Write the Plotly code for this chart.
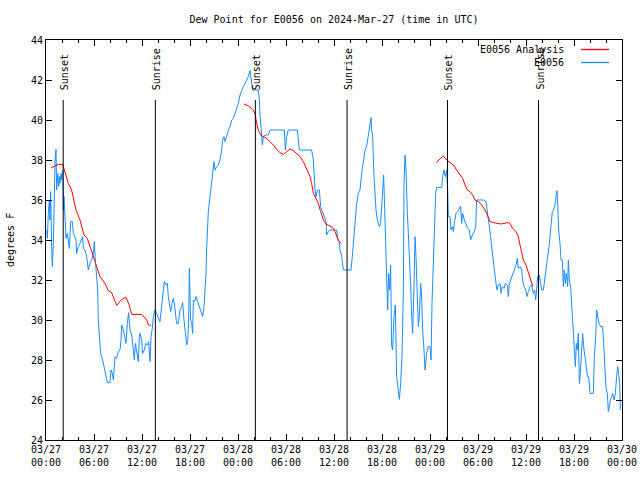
import pandas as pd
import plotly.graph_objects as go

START = pd.Timestamp("2024-03-27 00:00")

# Observed dew point (hours since 2024-03-27 00:00 UTC, degrees F)
obs_hours = [
    0.08, 0.17, 0.29, 0.42, 0.5, 0.58, 0.71, 0.79, 0.92, 1.04, 1.13, 1.25, 1.33, 1.46, 1.58, 1.67,
    1.75, 1.88, 1.96, 2.08, 2.17, 2.25, 2.38, 2.5, 2.67, 2.79, 2.92, 3.08, 3.29, 3.42, 3.54, 3.75,
    3.83, 4.04, 4.25, 4.46, 4.58, 4.67, 4.88, 5.08, 5.29, 5.5, 5.71, 5.92, 6.04, 6.13, 6.33, 6.46,
    6.54, 6.67, 6.83, 7.04, 7.17, 7.29, 7.5, 7.67, 8.0, 8.13, 8.29, 8.42, 8.63, 8.83, 9.04, 9.25,
    9.38, 9.46, 9.67, 9.88, 10.0, 10.17, 10.33, 10.5, 10.71, 10.92, 11.04, 11.17, 11.33, 11.54, 11.67,
    11.75, 11.96, 12.08, 12.29, 12.46, 12.71, 12.83, 13.0, 13.13, 13.29, 13.42, 13.63, 13.83, 14.04,
    14.25, 14.38, 14.5, 14.67, 14.79, 15.0, 15.17, 15.29, 15.42, 15.58, 15.75, 15.92, 16.04, 16.21,
    16.33, 16.54, 16.75, 16.96, 17.08, 17.25, 17.42, 17.58, 17.71, 17.83, 17.92, 18.0, 18.08, 18.21,
    18.33, 18.42, 18.58, 18.75, 18.96, 19.13, 19.25, 19.46, 19.58, 19.75, 19.88, 20.0, 20.08, 20.17,
    20.29, 20.5, 20.71, 20.83, 21.0, 21.13, 21.33, 21.54, 21.75, 21.96, 22.08, 22.25, 22.38, 22.58,
    22.79, 23.0, 23.21, 23.42, 23.63, 23.83, 24.04, 24.25, 24.46, 24.67, 24.88, 25.08, 25.29, 25.5,
    25.63, 25.83, 26.54, 26.67, 26.75, 26.88, 27.04, 27.17, 27.38, 27.79, 28.0, 29.79, 29.92, 30.08,
    30.29, 31.42, 31.67, 33.2, 33.4, 33.63, 33.75, 33.92, 34.17, 34.33, 34.58, 34.75, 35.0, 35.08,
    35.29, 35.5, 36.33, 36.46, 36.67, 36.75, 36.96, 37.17, 38.13, 38.29, 38.5, 38.63, 38.83, 39.04,
    39.25, 39.46, 39.67, 39.88, 40.08, 40.29, 40.5, 40.63, 40.71, 40.83, 41.0, 41.13, 41.25, 41.42,
    41.67, 41.83, 41.96, 42.08, 42.2, 42.29, 42.42, 42.5, 42.63, 42.71, 42.83, 42.96, 43.08, 43.2,
    43.33, 43.5, 43.67, 43.83, 44.0, 44.17, 44.33, 44.5, 44.67, 44.75, 44.88, 45.0, 45.17, 45.38,
    45.58, 45.71, 45.83, 46.0, 46.13, 46.25, 46.42, 46.54, 46.67, 46.83, 46.96, 47.08, 47.25, 47.38,
    47.58, 47.79, 48.0, 48.13, 48.25, 48.42, 48.54, 48.71, 48.83, 49.46, 49.58, 49.75, 49.92, 50.08,
    50.21, 50.29, 50.5, 50.63, 50.79, 50.92, 51.04, 51.25, 51.46, 51.67, 51.83, 51.96, 52.08, 52.29,
    52.5, 52.71, 52.92, 53.08, 53.29, 53.54, 53.71, 53.83, 54.04, 54.67, 55.0, 55.17, 55.38, 55.58,
    55.75, 55.92, 56.13, 56.25, 56.38, 56.54, 56.75, 56.88, 57.04, 57.25, 57.42, 57.67, 57.79, 57.92,
    58.08, 58.33, 58.5, 58.75, 58.92, 59.04, 59.25, 59.46, 59.58, 59.75, 59.96, 60.13, 60.29, 60.5,
    60.71, 60.92, 61.08, 61.21, 61.33, 61.46, 61.58, 61.67, 61.83, 61.96, 62.17, 62.29, 62.42, 62.58,
    62.71, 62.88, 63.0, 63.13, 63.29, 63.42, 63.63, 63.75, 63.88, 63.96, 64.08, 64.25, 64.38, 64.54,
    64.67, 64.79, 64.92, 65.04, 65.21, 65.29, 65.42, 65.58, 65.75, 65.92, 66.04, 66.17, 66.29, 66.42,
    66.54, 66.67, 66.79, 66.96, 67.08, 67.25, 67.38, 67.5, 67.67, 67.83, 68.0, 68.42, 68.54, 68.71,
    68.83, 68.96, 69.13, 69.33, 69.58, 69.71, 69.83, 70.0, 70.17, 70.29, 70.42, 70.54, 70.71, 70.83,
    71.0, 71.17, 71.33, 71.46, 71.58, 71.71, 71.79,
]
obs_values = [
    34.5, 34.08, 35.33, 36.0, 35.0, 36.42, 33.67, 32.67, 33.83, 36.83, 38.0, 38.53, 36.5, 37.33, 36.67, 37.17,
    36.83, 37.33, 37.0, 37.5, 35.5, 36.17, 34.5, 34.08, 34.33, 34.0, 33.58, 34.92, 34.92, 34.33, 34.17, 34.0,
    33.33, 33.67, 33.83, 34.08, 34.17, 33.58, 33.5, 33.17, 32.5, 32.83, 33.0, 33.33, 33.92, 33.17, 31.83, 31.5,
    30.0, 29.0, 28.33, 28.08, 27.83, 27.5, 27.25, 26.87, 26.87, 27.5, 27.33, 27.0, 28.17, 28.08, 28.42, 28.5,
    29.0, 29.75, 29.5, 29.17, 28.83, 29.83, 30.37, 29.5, 29.25, 28.5, 28.0, 28.83, 28.5, 27.92, 29.17,
    29.33, 29.0, 28.33, 28.5, 28.83, 28.75, 28.92, 27.92, 29.17, 29.58, 30.17, 30.5, 30.33, 30.17,
    29.92, 30.42, 30.83, 31.58, 31.92, 31.75, 31.83, 31.17, 30.75, 30.42, 30.83, 31.08, 30.83, 30.17,
    29.83, 29.83, 30.5, 30.67, 30.87, 30.0, 29.17, 28.75, 28.92, 30.0, 32.58, 31.33, 30.0, 29.83,
    29.33, 31.0, 30.92, 31.17, 30.92, 30.75, 30.67, 30.42, 30.17, 30.67, 31.33, 32.33, 33.5, 34.67,
    35.42, 36.17, 36.83, 37.25, 37.92, 37.5, 37.67, 37.75, 38.0, 38.5, 39.0, 39.17, 38.92, 39.17,
    39.5, 39.67, 40.0, 40.08, 40.33, 40.5, 40.83, 41.25, 41.5, 41.67, 41.83, 42.0, 42.17, 42.47,
    42.17, 41.5, 41.5, 41.0, 40.25, 39.33, 38.75, 39.17, 39.25, 39.25, 39.5, 39.5, 38.5, 39.17,
    39.5, 39.5, 38.5, 38.5, 38.08, 36.5, 36.17, 36.5, 36.5, 35.67, 35.42, 35.17, 34.92, 34.25,
    34.42, 34.5, 34.5, 34.08, 33.92, 33.5, 33.17, 32.5, 32.5, 33.17, 34.17, 34.83, 35.83, 36.33,
    36.5, 37.33, 37.83, 38.5, 38.67, 39.17, 39.83, 40.13, 39.5, 39.17, 37.17, 35.83, 35.5, 35.0,
    34.67, 34.83, 35.67, 36.67, 37.25, 36.17, 34.08, 32.33, 31.5, 30.5, 32.33, 31.5, 32.75, 28.75,
    28.5, 30.17, 30.75, 27.17, 26.5, 26.03, 26.83, 28.17, 31.5, 36.83, 38.25, 37.5, 35.33, 33.83,
    31.83, 30.17, 29.33, 31.67, 34.17, 33.17, 31.5, 29.67, 30.17, 31.83, 31.17, 29.5, 28.5, 27.5,
    28.33, 28.67, 28.67, 28.0, 30.83, 32.83, 34.92, 36.33, 36.63, 36.63, 37.17, 37.5, 37.17, 37.5,
    36.5, 35.17, 35.17, 34.5, 34.67, 34.42, 34.83, 35.33, 35.42, 35.58, 35.7, 34.83, 35.33, 35.0,
    34.83, 34.58, 34.5, 34.0, 34.25, 34.42, 34.67, 36.0, 36.0, 36.0, 35.92, 35.42, 34.92, 34.17,
    33.5, 32.83, 32.17, 31.83, 31.5, 31.75, 31.83, 31.33, 31.67, 31.58, 31.83, 31.75, 31.17, 31.83,
    32.0, 32.25, 32.5, 32.75, 33.08, 32.58, 32.67, 32.5, 32.0, 31.67, 31.5, 31.17, 31.42, 31.67,
    31.75, 31.33, 31.5, 31.0, 31.5, 32.17, 32.0, 32.25, 31.83, 31.5, 31.5, 31.83, 32.25, 32.58,
    33.17, 33.67, 34.17, 34.83, 35.42, 35.5, 35.75, 36.17, 36.47, 35.83, 34.5, 33.83, 33.0, 33.0,
    31.67, 32.5, 31.83, 32.33, 31.67, 33.0, 32.0, 31.67, 30.5, 29.33, 28.17, 27.67, 28.83, 28.5,
    29.33, 26.83, 27.33, 28.5, 29.33, 28.5, 28.17, 27.83, 27.17, 27.17, 26.33, 26.33, 28.17, 29.17,
    30.5, 30.17, 29.83, 29.67, 29.67, 28.83, 27.5, 26.58, 26.33, 25.42, 25.67, 26.0, 26.17, 26.33,
    26.0, 26.33, 27.17, 27.67, 27.33, 26.83, 25.5,
]

# Analysis dew point, three 12-hour segments
ana1_hours = [0.63, 1.54, 2.09, 2.79, 3.2, 3.75, 4.25, 4.75, 5.17, 5.5, 5.9, 6.33, 6.75, 7.38, 7.8,
              8.2, 8.83, 9.46, 10.0, 10.4, 10.7, 11.96, 12.6, 12.8, 13.1]
ana1_values = [37.6, 37.78, 37.78, 36.83, 36.5, 35.5, 35.0, 34.25, 34.08, 33.67, 33.17, 32.67, 32.17,
               31.83, 31.45, 31.37, 30.73, 31.03, 31.13, 30.75, 30.28, 30.28, 30.0, 29.75, 29.73]
ana2_hours = [24.75, 25.29, 25.83, 26.13, 26.33, 26.54, 26.83, 27.17, 27.58, 28.0, 28.42, 28.83, 29.25,
              29.67, 30.08, 30.5, 30.92, 31.33, 31.75, 32.17, 32.58, 33.0, 33.2, 33.42, 33.75, 34.04,
              34.33, 34.67, 35.0, 35.42, 35.83, 36.13, 36.33, 36.54, 36.88]
ana2_values = [40.8, 40.7, 40.53, 40.33, 39.83, 39.5, 39.25, 39.17, 39.08, 38.92, 38.75, 38.53, 38.37,
               38.28, 38.42, 38.55, 38.47, 38.3, 38.17, 37.92, 37.5, 37.17, 36.83, 36.33, 36.08, 35.83,
               35.42, 35.0, 34.8, 34.7, 34.63, 34.42, 34.17, 33.97, 33.83]
ana3_hours = [48.75, 49.25, 49.67, 50.08, 50.5, 50.92, 51.33, 51.75, 52.08, 52.38, 52.67, 53.0, 53.33,
              53.63, 54.04, 54.46, 54.88, 55.17, 55.5, 55.92, 56.33, 56.83, 57.25, 57.79, 58.0, 58.33,
              58.75, 59.04, 59.25, 59.46, 59.67, 60.0, 60.29, 60.58, 60.83]
ana3_values = [37.87, 38.03, 38.2, 38.0, 37.87, 37.75, 37.5, 37.25, 37.08, 36.75, 36.5, 36.42, 36.25,
               36.0, 35.92, 35.75, 35.5, 35.25, 34.92, 34.87, 34.83, 34.8, 34.83, 34.87, 34.83, 34.58,
               34.42, 34.17, 33.75, 33.33, 33.0, 32.75, 32.42, 32.0, 31.7]

sun_times = ["2024-03-27 02:09", "2024-03-27 13:40", "2024-03-28 02:10",
             "2024-03-28 13:38", "2024-03-29 02:11", "2024-03-29 13:34"]
sun_labels = ["Sunset", "Sunrise", "Sunset", "Sunrise", "Sunset", "Sunrise"]

tick_times = pd.date_range("2024-03-27 00:00", "2024-03-30 00:00", freq="6h")
tick_text = [t.strftime("%m/%d<br>%H:%M") for t in tick_times]

FONT = "DejaVu Sans Mono"
RED = "#ff0000"
BLUE = "#1a8cff"

# plot-area geometry in pixels
L, R, T, B = 46, 18, 40, 40
PW, PH = 640 - L - R, 480 - T - B


def to_time(hours):
    return START + pd.to_timedelta(hours, unit="h")


ana_x, ana_y = [], []
for hs, vs in [(ana1_hours, ana1_values), (ana2_hours, ana2_values), (ana3_hours, ana3_values)]:
    ana_x += list(to_time(hs)) + [None]
    ana_y += list(vs) + [None]

fig = go.Figure()
fig.add_trace(go.Scatter(x=to_time(obs_hours), y=obs_values, mode="lines", name="E0056",
                         line=dict(color=BLUE, width=1), showlegend=False))
fig.add_trace(go.Scatter(x=ana_x, y=ana_y, mode="lines", name="E0056 Analysis",
                         line=dict(color=RED, width=1), connectgaps=False, showlegend=False))

for t, lab in zip(sun_times, sun_labels):
    fig.add_shape(type="line", xref="x", yref="y", x0=t, x1=t, y0=24, y1=41,
                  line=dict(color="black", width=1))
    fig.add_annotation(x=t, y=41.4, xref="x", yref="y", text=lab, textangle=-90,
                       showarrow=False, xanchor="center", yanchor="bottom", xshift=1,
                       font=dict(family=FONT, size=10, color="black"))

# legend (gnuplot style: text right-aligned, sample to the right)
legend_items = [("E0056 Analysis", RED), ("E0056", BLUE)]
for i, (name, col) in enumerate(legend_items):
    ypos = 1 - (9.5 + 13 * i) / PH
    fig.add_annotation(x=(566 - L) / PW, y=ypos, xref="paper", yref="paper", text=name,
                       showarrow=False, xanchor="right", yanchor="middle",
                       font=dict(family=FONT, size=10, color="black"))
    fig.add_shape(type="line", xref="paper", yref="paper", x0=(581 - L) / PW, x1=(609 - L) / PW,
                  y0=ypos, y1=ypos, line=dict(color=col, width=1.3))

# y-axis title
fig.add_annotation(x=(10 - L) / PW, y=0.5, xref="paper", yref="paper", text="degrees F",
                   textangle=-90, showarrow=False, xanchor="center", yanchor="middle",
                   font=dict(family=FONT, size=10, color="black"))

fig.update_layout(
    width=640, height=480,
    margin=dict(l=L, r=R, t=T, b=B, autoexpand=False),
    paper_bgcolor="white", plot_bgcolor="white",
    font=dict(family=FONT, size=10, color="black"),
    title=dict(text="Dew Point for E0056 on 2024-Mar-27 (time in UTC)", x=334 / 640, xanchor="center",
               y=1 - 19 / 480, yanchor="middle", font=dict(family=FONT, size=10), automargin=False),
    showlegend=False,
)
fig.update_xaxes(
    range=[tick_times[0], tick_times[-1]], tickvals=tick_times, ticktext=tick_text,
    showgrid=False, zeroline=False, showline=True, linecolor="black", linewidth=1, mirror="ticks",
    ticks="inside", ticklen=6, tickcolor="black", tickwidth=1, automargin=False,
    minor=dict(dtick=2 * 3600000, ticks="inside", ticklen=3, tickcolor="black", showgrid=False),
    tickfont=dict(family=FONT, size=10),
)
fig.update_yaxes(
    range=[24, 44], dtick=2, tick0=24, automargin=False,
    showgrid=False, zeroline=False, showline=True, linecolor="black", linewidth=1, mirror="ticks",
    ticks="inside", ticklen=6, tickcolor="black", tickwidth=1,
    tickfont=dict(family=FONT, size=10),
)

fig.write_html("out.html", config={"displayModeBar": False},
               post_script="document.body.style.margin='0';document.body.style.padding='0';")
